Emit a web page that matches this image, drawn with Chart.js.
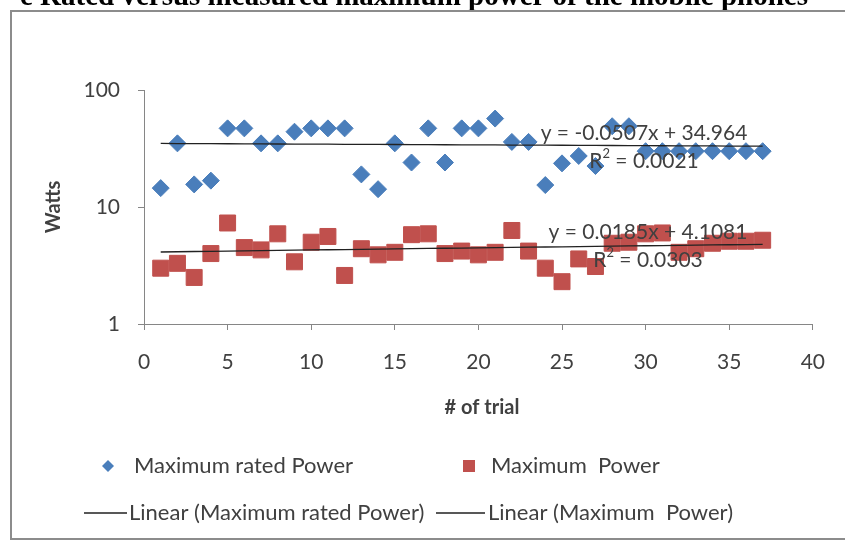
<!DOCTYPE html>
<html>
<head>
<meta charset="utf-8">
<script src="https://cdn.jsdelivr.net/npm/chart.js@4.4.1/dist/chart.umd.min.js"></script>
<style>
  html, body { margin: 0; padding: 0; background: #fff; }
  #wrap { position: relative; width: 845px; height: 540px; overflow: hidden; }
  canvas { position: absolute; left: 0; top: 0; }
</style>
</head>
<body>
<div id="wrap"><canvas id="power-chart" width="845" height="540"></canvas></div>
<script>
  // trial number for each phone
  var trials = [1, 2, 3, 4, 5, 6, 7, 8, 9, 10, 11, 12, 13, 14, 15, 16, 17, 18, 19,
    20, 21, 22, 23, 24, 25, 26, 27, 28, 29, 30, 31, 32, 33, 34, 35, 36, 37];
  // rated maximum power (W)
  var ratedPower = [14.5, 35, 15.6, 16.8, 47, 47, 35, 35, 44, 47, 47, 47, 19, 14.2, 35, 24, 47, 24, 47,
    47, 57, 36, 36, 15.4, 23.6, 27.3, 22.4, 49, 49, 30, 30, 30, 30, 30, 30, 30, 30];
  // measured maximum power (W)
  var measuredPower = [3.0, 3.3, 2.5, 4.0, 7.3, 4.5, 4.3, 5.9, 3.4, 5.0, 5.6, 2.6, 4.4, 3.9, 4.1, 5.8, 5.9, 4.0, 4.2,
    3.9, 4.1, 6.3, 4.2, 3.0, 2.3, 3.6, 3.1, 4.9, 5.0, 5.9, 6.0, 4.1, 4.4, 4.9, 5.1, 5.1, 5.2];
  var xTicks = [0, 5, 10, 15, 20, 25, 30, 35, 40];
  var yTicks = [1, 10, 100];
  // linear trend lines: y = slope * x + intercept
  var ratedSlope = -0.0507, ratedIntercept = 34.964, ratedR2 = '0.0021';
  var measuredSlope = 0.0185, measuredIntercept = 4.1081, measuredR2 = '0.0303';

  var BLUE = '#4A7EBB';
  var RED = '#C0504D';
  var TEXT = '#404040';
  var AXIS = '#868686';
  var FONT = 'Lato, "Open Sans", sans-serif';
  var FS = 21;

  function points(ys) {
    return trials.map(function (t, i) { return { x: t, y: ys[i] }; });
  }

  function trend(slope, intercept) {
    return trials.map(function (t) { return { x: t, y: slope * t + intercept }; });
  }

  // equation + R² text, centred on (cx, cy)
  function drawFitLabel(ctx, cx, cy, eq, r2) {
    ctx.font = FS + 'px ' + FONT;
    ctx.fillStyle = TEXT;
    ctx.textBaseline = 'middle';
    ctx.textAlign = 'center';
    ctx.fillText(eq, cx, cy);
    var rest = ' = ' + r2;
    var wR = ctx.measureText('R').width;
    var wRest = ctx.measureText(rest).width;
    ctx.font = Math.round(FS * 0.6) + 'px ' + FONT;
    var wSup = ctx.measureText('2').width;
    var x = cx - (wR + wSup + wRest) / 2;
    var y2 = cy + 28;
    ctx.textAlign = 'left';
    ctx.font = FS + 'px ' + FONT;
    ctx.fillText('R', x, y2);
    ctx.font = Math.round(FS * 0.6) + 'px ' + FONT;
    ctx.fillText('2', x + wR, y2 - 7);
    ctx.font = FS + 'px ' + FONT;
    ctx.fillText(rest, x + wR + wSup, y2);
  }

  var decorations = {
    id: 'decorations',
    beforeDraw: function (chart) {
      var ctx = chart.ctx;
      ctx.save();
      // caption line, cut at the top of the page
      ctx.font = 'bold 29px "Liberation Serif", "Times New Roman", serif';
      ctx.fillStyle = '#000';
      ctx.textAlign = 'right';
      ctx.textBaseline = 'alphabetic';
      ctx.fillText('e Rated versus measured maximum power of the mobile phones', 808, 5);
      // chart frame
      ctx.strokeStyle = '#8c8c8c';
      ctx.lineWidth = 2;
      ctx.strokeRect(11, 11, 900, 528);
      ctx.restore();
    },
    afterDatasetsDraw: function (chart) {
      var ctx = chart.ctx;
      ctx.save();
      drawFitLabel(ctx, 644, 133, 'y = -0.0507x + 34.964', ratedR2);
      drawFitLabel(ctx, 648, 232, 'y = 0.0185x + 4.1081', measuredR2);
      ctx.restore();
    },
    afterDraw: function (chart) {
      var ctx = chart.ctx;
      ctx.save();
      ctx.fillStyle = TEXT;
      ctx.textBaseline = 'middle';
      // axis titles
      ctx.font = 'bold 20px ' + FONT;
      ctx.textAlign = 'center';
      ctx.fillText('# of trial', 482, 408);
      ctx.translate(54, 207);
      ctx.rotate(-Math.PI / 2);
      ctx.fillText('Watts', 0, 0);
      ctx.setTransform(1, 0, 0, 1, 0, 0);

      // legend
      ctx.font = '22px ' + FONT;
      ctx.textAlign = 'left';
      ctx.fillStyle = BLUE;
      ctx.beginPath();
      ctx.moveTo(108, 460); ctx.lineTo(114, 466); ctx.lineTo(108, 472); ctx.lineTo(102, 466);
      ctx.closePath();
      ctx.fill();
      ctx.fillStyle = RED;
      ctx.fillRect(463, 460, 12, 12);
      ctx.fillStyle = TEXT;
      ctx.fillText('Maximum rated Power', 134, 466);
      ctx.fillText('Maximum  Power', 491, 466);

      ctx.strokeStyle = '#222';
      ctx.lineWidth = 1.3;
      ctx.beginPath();
      ctx.moveTo(84, 513); ctx.lineTo(127, 513);
      ctx.moveTo(436, 513); ctx.lineTo(485, 513);
      ctx.stroke();
      ctx.fillText('Linear (Maximum rated Power)', 129, 513);
      ctx.fillText('Linear (Maximum  Power)', 488, 513);
      ctx.restore();
    }
  };

  function tickFont() {
    return { family: FONT, size: FS };
  }

  new Chart(document.getElementById('power-chart'), {
    type: 'scatter',
    data: {
      datasets: [
        {
          label: 'Linear (Maximum rated Power)',
          type: 'line',
          data: trend(ratedSlope, ratedIntercept),
          borderColor: '#222',
          borderWidth: 1.3,
          pointRadius: 0,
          fill: false,
          order: 0
        },
        {
          label: 'Linear (Maximum  Power)',
          type: 'line',
          data: trend(measuredSlope, measuredIntercept),
          borderColor: '#222',
          borderWidth: 1.3,
          pointRadius: 0,
          fill: false,
          order: 0
        },
        {
          label: 'Maximum rated Power',
          data: points(ratedPower),
          pointStyle: 'rectRot',
          pointRadius: 8.5,
          backgroundColor: BLUE,
          borderColor: BLUE,
          borderWidth: 1,
          order: 1
        },
        {
          label: 'Maximum  Power',
          data: points(measuredPower),
          pointStyle: 'rect',
          pointRadius: 11.3,
          backgroundColor: RED,
          borderColor: RED,
          borderWidth: 1,
          order: 1
        }
      ]
    },
    options: {
      responsive: false,
      animation: false,
      layout: { padding: { top: 90, right: 26, bottom: 0, left: 0 } },
      plugins: {
        legend: { display: false },
        tooltip: { enabled: false }
      },
      scales: {
        x: {
          type: 'linear',
          min: 0,
          max: 40,
          afterBuildTicks: function (s) {
            s.ticks = xTicks.map(function (v) { return { value: v }; });
          },
          afterFit: function (s) { s.height = 216; },
          ticks: { color: TEXT, font: tickFont(), padding: 20 },
          grid: { drawOnChartArea: false, drawTicks: true, tickLength: 6, color: AXIS },
          border: { display: true, color: AXIS, width: 1 }
        },
        y: {
          type: 'logarithmic',
          min: 1,
          max: 100,
          afterBuildTicks: function (s) {
            s.ticks = yTicks.map(function (v) { return { value: v }; });
          },
          afterFit: function (s) { s.width = 144; },
          ticks: {
            color: TEXT,
            font: tickFont(),
            padding: 18,
            callback: function (v) { return String(v); }
          },
          grid: { drawOnChartArea: false, drawTicks: true, tickLength: 6, color: AXIS },
          border: { display: true, color: AXIS, width: 1 }
        }
      }
    },
    plugins: [decorations]
  });
</script>
</body>
</html>
